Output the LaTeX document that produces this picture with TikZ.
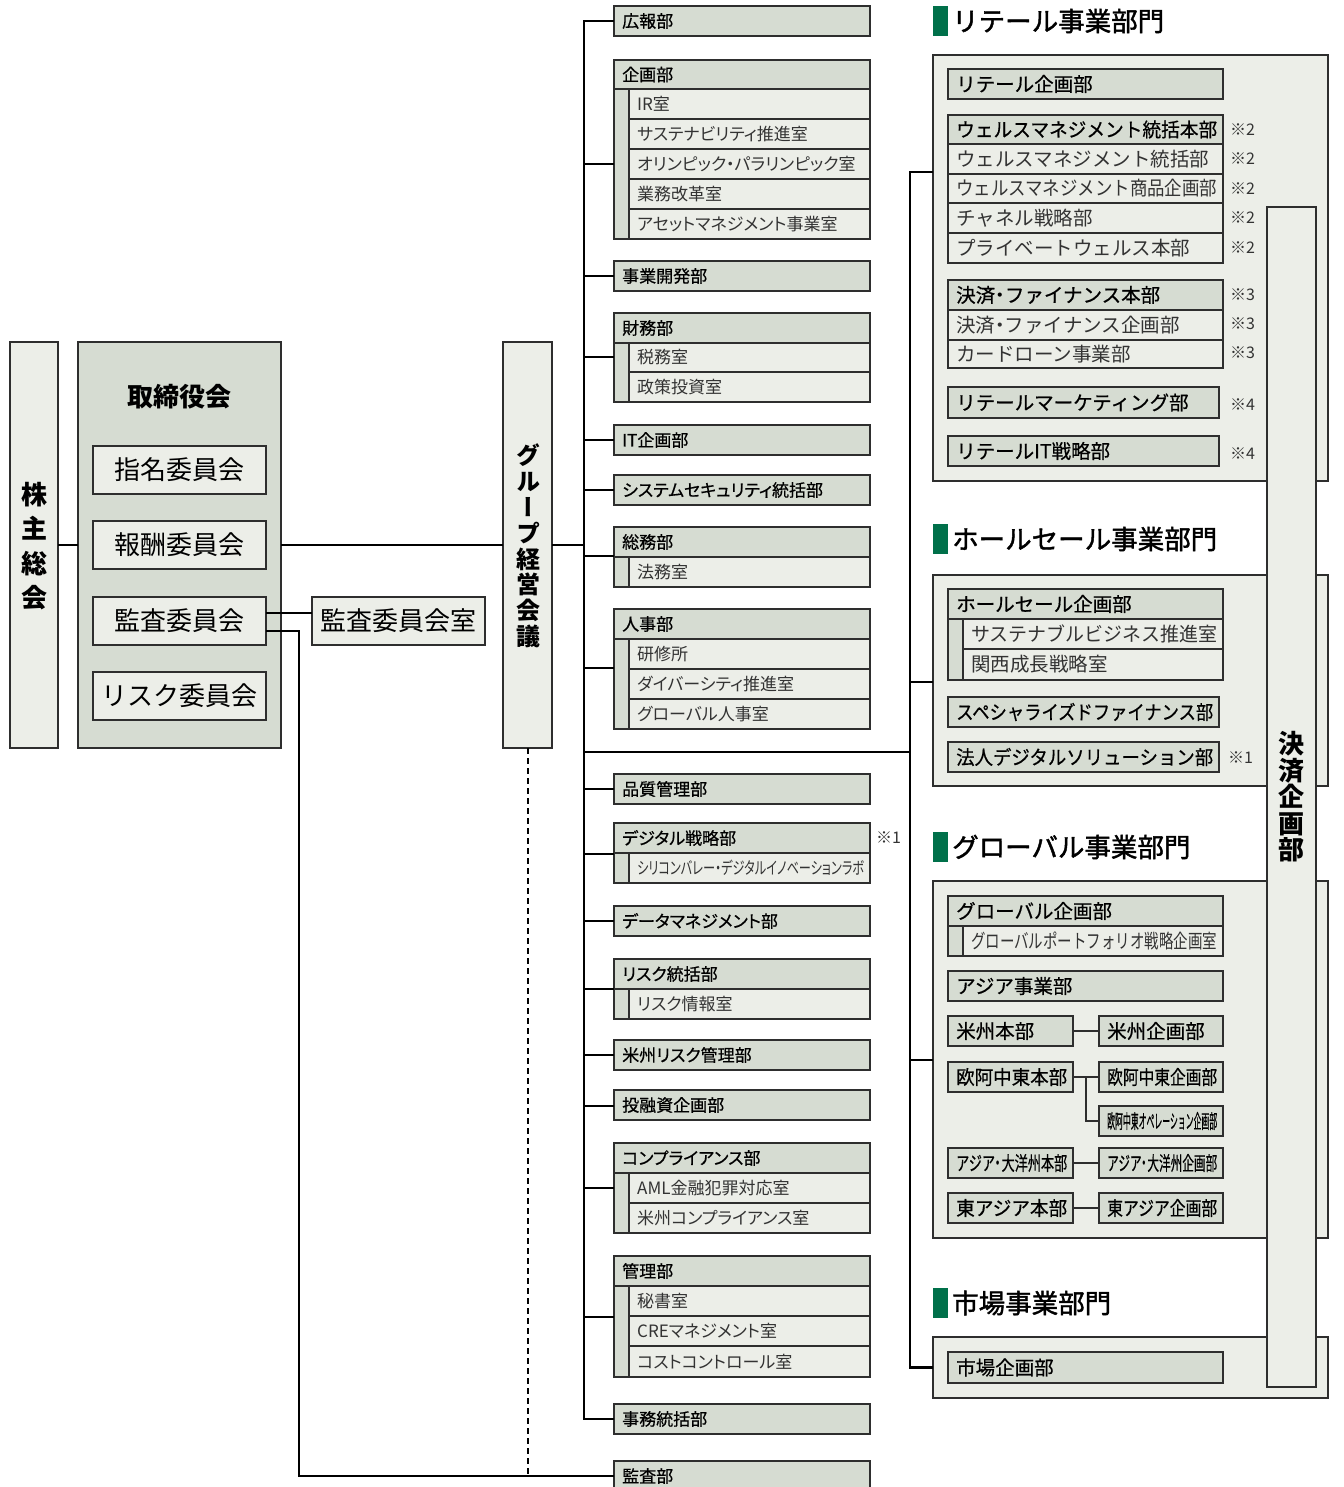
\documentclass[tikz,border=0pt]{standalone}
\usepackage{fontspec}
\usepackage{graphicx}
\setmainfont{Noto Sans CJK JP}
\newfontfamily\pfont{Noto Sans CJK JP}[RawFeature=+palt]
\newfontfamily\pmfont{Noto Sans CJK JP}[RawFeature=+palt, FakeBold=0.6]
\newfontfamily\rmfont{Noto Sans CJK JP}[FakeBold=0.6]
\newfontfamily\hfont{Noto Sans CJK JP}[FakeBold=1.6]
\newfontfamily\vfont{Noto Sans CJK JP}[RawFeature=+vert]
\newcommand\dt{{\pfont ・}}
\definecolor{hdr}{HTML}{D6DCD2}
\definecolor{sub}{HTML}{ECEEE8}
\definecolor{grn}{HTML}{00704A}
\definecolor{bdr}{HTML}{2E2E2E}
\definecolor{txt}{HTML}{333333}
\newsavebox\fitbox
\newdimen\fitw
\newcommand\fitto[2]{\fitw=\dimexpr#1\relax\sbox\fitbox{#2}%
  \ifdim\wd\fitbox>\fitw\scalebox{\fpeval{\the\fitw/\the\wd\fitbox}}[1]{\usebox\fitbox}\else\usebox\fitbox\fi}
% #1 box style, #2 text style, #3 name, #4 x1, #5 y1, #6 x2, #7 y2, #8 text
\newcommand\bx[8]{%
  \node[#1, anchor=north west, minimum width={#6pt-#4pt}, minimum height={#7pt-#5pt}] (#3) at (#4,#5) {};
  \node[#2, anchor=west] (#3-t) at ([xshift=8pt]#3.west) {\fitto{#6pt-#4pt-14pt}{#8}};}
\newcommand\grp[5]{%
  \node[hdrbox, anchor=north west, minimum width={#4pt-#2pt}, minimum height={#5pt-#3pt}] (#1) at (#2,#3) {};}
\tikzset{
  hdrbox/.style={draw=bdr, fill=hdr, line width=1.3pt, inner sep=0pt, outer sep=0pt},
  subbox/.style={draw=bdr, fill=sub, line width=1.3pt, inner sep=0pt, outer sep=0pt},
  panel/.style={draw=bdr, fill=sub, line width=1.5pt, inner sep=0pt, outer sep=0pt},
  mt/.style={inner sep=0pt, font=\pmfont\fontsize{17}{17}\selectfont, text=black},
  ms/.style={inner sep=0pt, font=\pfont\fontsize{17}{17}\selectfont, text=txt},
  rt/.style={inner sep=0pt, font=\rmfont\fontsize{19.5}{19.5}\selectfont, text=black},
  rs/.style={inner sep=0pt, font=\fontsize{19.5}{19.5}\selectfont, text=txt},
  bigt/.style={font=\fontsize{26}{26}\selectfont},
  conn/.style={line width=2.2pt, draw=black},
  thinc/.style={line width=1.3pt, draw=bdr},
  note/.style={inner sep=0pt, font=\fontsize{16}{16}\selectfont, text=txt, anchor=west},
  headt/.style={inner sep=0pt, font=\hfont\fontsize{26.5}{26.5}\selectfont, anchor=west},
  gmark/.style={fill=grn, inner sep=0pt, outer sep=0pt, anchor=north west, minimum width=15pt, minimum height=30pt},
}
\begin{document}
\begin{tikzpicture}[x=1pt,y=-1pt]
\useasboundingbox (0,0) rectangle (1343,1487);
\coordinate (tt) at (584,0);
\coordinate (rv) at (910,0);

% ---------- left ----------
\node[subbox, anchor=north west, minimum width=48pt, minimum height=406pt] (kabu) at (10,342) {};
\node[font=\bfseries\fontsize{26}{34.3}\selectfont, align=center, inner sep=0pt] (kabu-t) at (34,546) {株\\主\\総\\会};
\node[hdrbox, anchor=north west, minimum width=203pt, minimum height=406pt] (tori) at (78,342) {};
\node[font=\bfseries\fontsize{26}{26}\selectfont, inner sep=0pt] (tori-t) at (179,397) {取締役会};
\node[subbox, bigt, anchor=north west, minimum width=173pt, minimum height=48pt] (shimei) at (93,446) {指名委員会};
\node[subbox, bigt, anchor=north west, minimum width=173pt, minimum height=48pt] (hoshu) at (93,521) {報酬委員会};
\node[subbox, bigt, anchor=north west, minimum width=173pt, minimum height=48pt] (kansaI) at (93,597) {監査委員会};
\node[subbox, bigt, anchor=north west, minimum width=173pt, minimum height=48pt] (riskI) at (93,672) {リスク委員会};
\node[subbox, bigt, anchor=north west, minimum width=173pt, minimum height=48pt] (kroom) at (312,597) {監査委員会室};
\node[subbox, anchor=north west, minimum width=49pt, minimum height=406pt] (group) at (503,342) {};
\node[font=\vfont\bfseries\fontsize{24}{25.8}\selectfont, align=center, inner sep=0pt] (group-t) at (528,546) {グ\\ル\\ー\\プ\\経\\営\\会\\議};

% ---------- middle column ----------
\bx{hdrbox}{mt}{koho}{614}{6}{870}{36}{広報部}
\grp{kikaku}{614}{60}{870}{239}
\bx{hdrbox}{mt}{kikaku-h}{614}{60}{870}{89}{企画部}
\bx{subbox}{ms}{ir}{629}{89}{870}{119}{IR室}
\bx{subbox}{ms}{sust}{629}{119}{870}{149}{サステナビリティ推進室}
\bx{subbox}{ms}{olym}{629}{149}{870}{179}{オリンピック・パラリンピック室}
\bx{subbox}{ms}{gyomu}{629}{179}{870}{209}{業務改革室}
\bx{subbox}{ms}{asset}{629}{209}{870}{239}{アセットマネジメント事業室}
\bx{hdrbox}{mt}{jigyo}{614}{261}{870}{291}{事業開発部}
\grp{zaimu}{614}{313}{870}{402}
\bx{hdrbox}{mt}{zaimu-h}{614}{313}{870}{343}{財務部}
\bx{subbox}{ms}{zeimu}{629}{343}{870}{372}{税務室}
\bx{subbox}{ms}{seisaku}{629}{372}{870}{402}{政策投資室}
\bx{hdrbox}{mt}{itk}{614}{425}{870}{455}{IT企画部}
\bx{hdrbox}{mt}{sys}{614}{475}{870}{505}{システムセキュリティ統括部}
\grp{somu}{614}{527}{870}{587}
\bx{hdrbox}{mt}{somu-h}{614}{527}{870}{557}{総務部}
\bx{subbox}{ms}{homu}{629}{557}{870}{587}{法務室}
\grp{jinji}{614}{609}{870}{729}
\bx{hdrbox}{mt}{jinji-h}{614}{609}{870}{639}{人事部}
\bx{subbox}{ms}{kenshu}{629}{639}{870}{669}{研修所}
\bx{subbox}{ms}{div}{629}{669}{870}{699}{ダイバーシティ推進室}
\bx{subbox}{ms}{gjinji}{629}{699}{870}{729}{グローバル人事室}
\bx{hdrbox}{mt}{hinshitsu}{614}{774}{870}{804}{品質管理部}
\grp{digi}{614}{823}{870}{883}
\bx{hdrbox}{mt}{digi-h}{614}{823}{870}{853}{デジタル戦略部}
\bx{subbox}{ms}{silicon}{629}{853}{870}{883}{シリコンバレー・デジタルイノベーションラボ}
\node[note] (n-digi) at (876,838) {※1};
\bx{hdrbox}{mt}{data}{614}{906}{870}{936}{データマネジメント部}
\grp{risk}{614}{959}{870}{1019}
\bx{hdrbox}{mt}{risk-h}{614}{959}{870}{989}{リスク統括部}
\bx{subbox}{ms}{riskinfo}{629}{989}{870}{1019}{リスク情報室}
\bx{hdrbox}{mt}{beirisk}{614}{1040}{870}{1070}{米州リスク管理部}
\bx{hdrbox}{mt}{toyu}{614}{1090}{870}{1120}{投融資企画部}
\grp{comp}{614}{1143}{870}{1233}
\bx{hdrbox}{mt}{comp-h}{614}{1143}{870}{1173}{コンプライアンス部}
\bx{subbox}{ms}{aml}{629}{1173}{870}{1203}{AML金融犯罪対応室}
\bx{subbox}{ms}{beicomp}{629}{1203}{870}{1233}{米州コンプライアンス室}
\grp{kanri}{614}{1256}{870}{1377}
\bx{hdrbox}{mt}{kanri-h}{614}{1256}{870}{1286}{管理部}
\bx{subbox}{ms}{hisho}{629}{1286}{870}{1316}{秘書室}
\bx{subbox}{ms}{cre}{629}{1316}{870}{1346}{CREマネジメント室}
\bx{subbox}{ms}{cost}{629}{1346}{870}{1377}{コストコントロール室}
\bx{hdrbox}{mt}{jimu}{614}{1404}{870}{1434}{事務統括部}
\bx{hdrbox}{mt}{kansabu}{614}{1461}{870}{1491}{監査部}

% ---------- right: retail ----------
\node[gmark] (g1) at (933,6) {};
\node[headt] (h1) at (952,21) {リテール事業部門};
\node[panel, anchor=north west, minimum width=395pt, minimum height=426pt] (retail) at (933,55) {};
\bx{hdrbox}{rt}{rkikaku}{948}{69}{1223}{99}{リテール企画部}
\bx{hdrbox}{rt}{wmh}{948}{115}{1223}{144}{ウェルスマネジメント統括本部}
\bx{subbox}{rs}{wm1}{948}{144}{1223}{174}{ウェルスマネジメント統括部}
\bx{subbox}{rs}{wm2}{948}{174}{1223}{203}{ウェルスマネジメント商品企画部}
\bx{subbox}{rs}{wm3}{948}{203}{1223}{233}{チャネル戦略部}
\bx{subbox}{rs}{wm4}{948}{233}{1223}{263}{プライベートウェルス本部}
\bx{hdrbox}{rt}{kfh}{948}{280}{1223}{310}{決済\dt ファイナンス本部}
\bx{subbox}{rs}{kf1}{948}{310}{1223}{340}{決済\dt ファイナンス企画部}
\bx{subbox}{rs}{kf2}{948}{340}{1223}{368}{カードローン事業部}
\bx{hdrbox}{rt}{rmkt}{948}{387}{1219}{418}{リテールマーケティング部}
\bx{hdrbox}{rt}{rit}{948}{436}{1219}{466}{リテールIT戦略部}
\foreach \yy in {130,159,189,218,248} \node[note] at (1230,\yy) {※2};
\foreach \yy in {295,324,353} \node[note] at (1230,\yy) {※3};
\foreach \yy in {405,454} \node[note] at (1230,\yy) {※4};

% ---------- right: wholesale ----------
\node[gmark] (g2) at (933,524) {};
\node[headt] (h2) at (952,539) {ホールセール事業部門};
\node[panel, anchor=north west, minimum width=395pt, minimum height=211pt] (whole) at (933,575) {};
\grp{wk}{948}{589}{1223}{680}
\bx{hdrbox}{rt}{wkh}{948}{589}{1223}{619}{ホールセール企画部}
\bx{subbox}{rs}{sbiz}{963}{619}{1223}{649}{サステナブルビジネス推進室}
\bx{subbox}{rs}{kansai}{963}{649}{1223}{680}{関西成長戦略室}
\bx{hdrbox}{rt}{spf}{948}{697}{1219}{727}{スペシャライズドファイナンス部}
\bx{hdrbox}{rt}{hds}{948}{742}{1219}{772}{法人デジタルソリューション部}
\node[note] (n-hds) at (1228,758) {※1};

% ---------- right: global ----------
\node[gmark] (g3) at (933,832) {};
\node[headt] (h3) at (952,847) {グローバル事業部門};
\node[panel, anchor=north west, minimum width=395pt, minimum height=357pt] (glob) at (933,881) {};
\grp{gk}{948}{896}{1223}{956}
\bx{hdrbox}{rt}{gkh}{948}{896}{1223}{926}{グローバル企画部}
\bx{subbox}{rs}{gpf}{963}{926}{1223}{956}{グローバルポートフォリオ戦略企画室}
\bx{hdrbox}{rt}{asia}{948}{971}{1223}{1001}{アジア事業部}
\bx{hdrbox}{rt}{bei}{948}{1016}{1073}{1046}{米州本部}
\bx{hdrbox}{rt}{beik}{1099}{1016}{1223}{1046}{米州企画部}
\bx{hdrbox}{rt}{oh}{948}{1062}{1073}{1092}{欧阿中東本部}
\bx{hdrbox}{rt}{ohk}{1099}{1062}{1223}{1092}{欧阿中東企画部}
\bx{hdrbox}{rt}{ohop}{1099}{1106}{1223}{1136}{欧阿中東オペレーション企画部}
\bx{hdrbox}{rt}{ap}{948}{1148}{1073}{1178}{アジア\dt 大洋州本部}
\bx{hdrbox}{rt}{apk}{1099}{1148}{1223}{1178}{アジア\dt 大洋州企画部}
\bx{hdrbox}{rt}{ea}{948}{1193}{1073}{1223}{東アジア本部}
\bx{hdrbox}{rt}{eak}{1099}{1193}{1223}{1223}{東アジア企画部}
\coordinate (ohj) at (1086,1077);
\draw[thinc] (bei) -- (beik);
\draw[thinc] (oh) -- (ohk);
\draw[thinc] (ohj) |- (ohop.west);
\draw[thinc] (ap) -- (apk);
\draw[thinc] (ea) -- (eak);

% ---------- right: market ----------
\node[gmark] (g4) at (933,1288) {};
\node[headt] (h4) at (952,1303) {市場事業部門};
\node[panel, anchor=north west, minimum width=395pt, minimum height=61pt] (market) at (933,1337) {};
\bx{hdrbox}{rt}{ichiba}{948}{1352}{1223}{1383}{市場企画部}

% ---------- 決済企画部 ----------
\node[subbox, line width=1.5pt, anchor=north west, minimum width=49pt, minimum height=1180pt] (kessai) at (1267,207) {};
\node[font=\bfseries\fontsize{26}{26.5}\selectfont, align=center, inner sep=0pt] (kessai-t) at (1291,797) {決\\済\\企\\画\\部};

% ---------- connectors ----------
\draw[conn] (kabu) -- (tori);
\draw[conn] (tori.east) -- (group.west);
\coordinate (ka1) at (0,613);
\draw[conn] (kansaI.east |- ka1) -- (kroom.west |- ka1);
\coordinate (ka2) at (299,631);
\draw[conn] (kansaI.east |- ka2) -- (ka2) -- (kansabu.west -| ka2) -- (kansabu.west);
\draw[conn, dash pattern=on 6pt off 4pt, line width=2pt] (group.south) -- (group.south |- kansabu.west);
\draw[conn] (group.east) -- (tt |- group.east);
\draw[conn] (koho.west) -- (tt |- koho.west) -- (tt |- jimu.west) -- (jimu.west);
\foreach \n/\yy in {kikaku/164, jigyo/276, zaimu/357, itk/440, sys/490, somu/556, jinji/668, hinshitsu/789, digi/854, data/921, risk/989, beirisk/1055, toyu/1106, comp/1188, kanri/1317}
  \draw[conn] (tt |- 0,\yy) -- (\n.west |- 0,\yy);
\draw[conn] (tt |- 0,752) -- (rv |- 0,752);
\draw[conn] (retail.west |- 0,172) -- (rv |- 0,172) -- (rv |- market.west) -- (market.west);
\draw[conn] (rv |- 0,682) -- (whole.west |- 0,682);
\draw[conn] (rv |- 0,1060) -- (glob.west |- 0,1060);
\end{tikzpicture}
\end{document}
